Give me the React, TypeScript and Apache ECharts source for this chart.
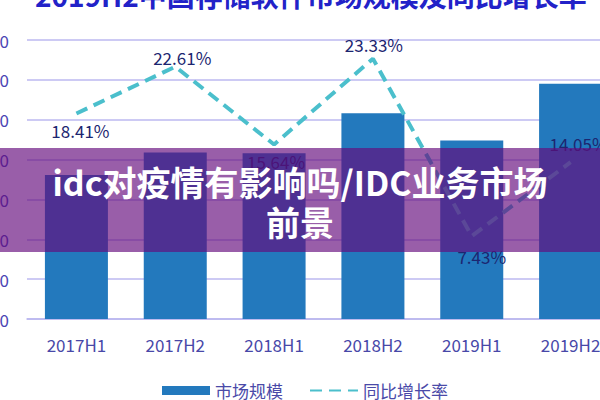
import React, { useEffect, useRef } from 'react';
import * as echarts from 'echarts';

const categories = ['2017H1', '2017H2', '2018H1', '2018H2', '2019H1', '2019H2'];
const marketSize = [36.1, 41.8, 41.6, 51.6, 44.8, 59.0];
const growthRate = [18.41, 22.61, 15.64, 23.33, 7.43, 14.05];
const sizeTicks = { min: 0, max: 70, interval: 10 };
const rateTicks = { min: 0, max: 25 };

// where each growth label sits relative to its point (styling only)
const labelPlacement = [
  { position: 'bottom', distance: 8, dx: 4 },
  { position: 'top', distance: 0, dx: 7 },
  { position: 'bottom', distance: 8, dx: 2 },
  { position: 'top', distance: 5, dx: 1 },
  { position: 'bottom', distance: 11, dx: 10 },
  { position: 'top', distance: 10, dx: 8 },
];

const FONT = '"Noto Sans CJK SC", "Noto Sans", sans-serif';

export default function App() {
  const chartRef = useRef<HTMLDivElement>(null);

  useEffect(() => {
    if (!chartRef.current) return;
    const chart = echarts.init(chartRef.current, null, { renderer: 'svg' });

    const option = {
      animation: false,
      textStyle: { fontFamily: FONT },
      grid: {
        left: 27,
        right: -20,
        top: 40,
        bottom: 81,
        containLabel: false,
        outerBoundsMode: 'none',
      },
      legend: {
        left: 157,
        top: 377,
        itemWidth: 48,
        itemHeight: 9,
        itemGap: 26,
        textStyle: { fontSize: 17, color: '#4a4aa8', fontFamily: FONT },
        data: [
          { name: '市场规模', icon: 'rect' },
          { name: '同比增长率', itemStyle: { opacity: 0 } },
        ],
      },
      xAxis: {
        type: 'category',
        data: categories,
        axisLine: { lineStyle: { color: '#b9b6ee', width: 1.5 } },
        axisTick: { show: false },
        axisLabel: { fontSize: 17, color: '#4848a8', margin: 17, fontFamily: FONT },
      },
      yAxis: [
        {
          type: 'value',
          ...sizeTicks,
          axisLine: { show: false },
          axisTick: { show: false },
          axisLabel: { fontSize: 17, color: '#4b45b4', margin: 18, fontFamily: FONT },
          splitLine: { lineStyle: { color: '#bcb9f0', width: 1.5 } },
        },
        {
          type: 'value',
          ...rateTicks,
          show: false,
          splitLine: { show: false },
        },
      ],
      series: [
        {
          name: '市场规模',
          type: 'bar',
          data: marketSize,
          barWidth: 63,
          itemStyle: { color: '#2379bd' },
        },
        {
          name: '同比增长率',
          type: 'line',
          yAxisIndex: 1,
          symbol: 'circle',
          symbolSize: 1,
          showSymbol: true,
          lineStyle: { color: '#4bbfcc', width: 4, type: [12, 7] },
          itemStyle: { color: 'rgba(75,191,204,0)' },
          z: 5,
          label: { show: true },
          data: growthRate.map((v, i) => ({
            value: v,
            label: {
              show: true,
              position: labelPlacement[i].position,
              distance: labelPlacement[i].distance,
              offset: [labelPlacement[i].dx, 0],
              formatter: `${v.toFixed(2)}%`,
              fontSize: 17,
              color: '#1c2670',
              fontFamily: FONT,
            },
          })),
        },
      ],
      graphic: [
        {
          type: 'text',
          x: 35,
          y: 9,
          z: 50,
          style: {
            text: '2019H2中国存储软件市场规模及同比增长率',
            fill: '#2222c8',
            fontSize: 28,
            fontWeight: 'bold',
            fontFamily: FONT,
            verticalAlign: 'bottom',
          },
        },
        {
          type: 'rect',
          z: 100,
          shape: { x: 0, y: 148, width: 600, height: 104 },
          style: { fill: 'rgba(100, 10, 125, 0.66)' },
        },
        {
          type: 'text',
          z: 101,
          x: 300,
          y: 181,
          style: {
            text: 'idc对疫情有影响吗/IDC业务市场',
            fill: '#ffffff',
            fontSize: 34,
            fontWeight: 'bold',
            fontFamily: FONT,
            align: 'center',
            verticalAlign: 'middle',
          },
        },
        {
          type: 'text',
          z: 101,
          x: 300,
          y: 221,
          style: {
            text: '前景',
            fill: '#ffffff',
            fontSize: 34,
            fontWeight: 'bold',
            fontFamily: FONT,
            align: 'center',
            verticalAlign: 'middle',
          },
        },
      ],
    } as any;

    chart.setOption(option);
    return () => {
      chart.dispose();
    };
  }, []);

  return (
    <div
      ref={chartRef}
      style={{ position: 'fixed', left: 0, top: 0, width: 600, height: 400, background: '#ffffff' }}
    />
  );
}
